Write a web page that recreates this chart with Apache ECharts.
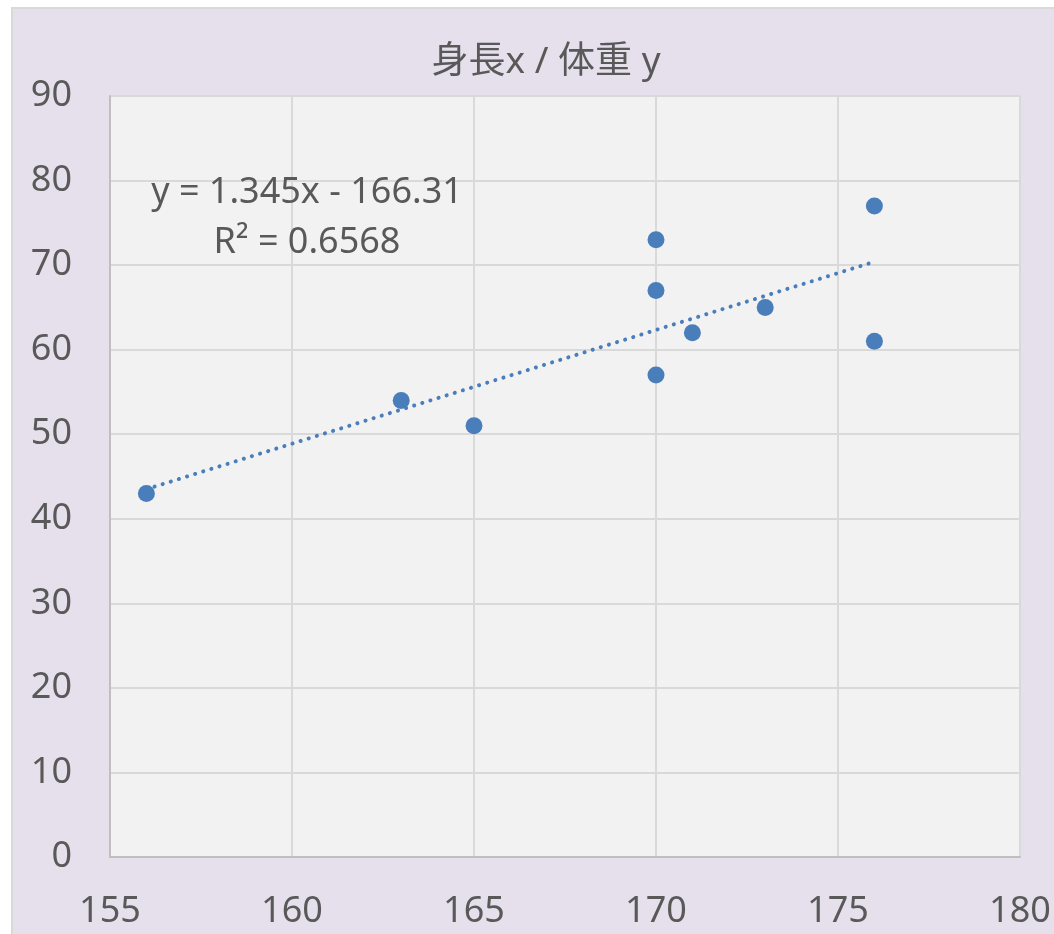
<!DOCTYPE html>
<html lang="ja">
<head>
	<meta charset="UTF-8">
	<title>身長x / 体重 y</title>
	<style>
		html, body { margin: 0; padding: 0; background: #fff; overflow: hidden; }
		#frame { position: absolute; left: 11px; top: 7px; width: 1100px; height: 1000px;
			background: #E6E0EC; border: 2px solid #D9D9D9; box-sizing: border-box; }
		#main { position: absolute; left: 0; top: 0; width: 1054px; height: 934px; }
	</style>
</head>
<body>
	<div id="frame"></div>
	<div id="main"></div>
	<script src="https://cdn.jsdelivr.net/npm/echarts@6/dist/echarts.min.js"></script>
	<script>
		// データ
		var heights = [156, 163, 165, 170, 170, 170, 171, 173, 176, 176];
		var weights = [43, 54, 51, 73, 67, 57, 62, 65, 77, 61];
		// 近似直線の両端
		var trendX = [156, 176];
		var trendY = [43.5, 70.4];
		var xTicks = [155, 160, 165, 170, 175, 180];
		var yTicks = [0, 10, 20, 30, 40, 50, 60, 70, 80, 90];

		var font = '"Noto Sans", "Noto Sans CJK JP", sans-serif';
		var textColor = '#595959';
		var blue = '#4A7EBB';

		var points = heights.map(function (h, i) { return [h, weights[i]]; });
		var trend = trendX.map(function (x, i) { return [x, trendY[i]]; });

		var myChart = echarts.init(document.getElementById('main'));
		myChart.setOption({
			backgroundColor: 'transparent',
			animation: false,
			title: {
				text: '身長x / 体重 y',
				left: 541,
				top: 39,
				textAlign: 'center',
				textStyle: { fontFamily: font, fontSize: 37, fontWeight: 'normal', color: textColor }
			},
			grid: { left: 110, right: 34, top: 96, bottom: 77, show: true, backgroundColor: '#F2F2F2', borderWidth: 0 },
			xAxis: {
				type: 'value',
				min: xTicks[0],
				max: xTicks[xTicks.length - 1],
				interval: 5,
				axisLine: { show: true, lineStyle: { color: '#BFBFBF', width: 2 } },
				axisTick: { show: false },
				splitLine: { show: true, lineStyle: { color: '#D9D9D9', width: 2 } },
				axisLabel: { margin: 37, fontFamily: font, fontSize: 36, color: textColor, showMinLabel: true, showMaxLabel: true }
			},
			yAxis: {
				type: 'value',
				min: yTicks[0],
				max: yTicks[yTicks.length - 1],
				interval: 10,
				axisLine: { show: true, lineStyle: { color: '#BFBFBF', width: 2 } },
				axisTick: { show: false },
				splitLine: { show: true, lineStyle: { color: '#D9D9D9', width: 2 } },
				axisLabel: { margin: 38, fontFamily: font, fontSize: 36, color: textColor }
			},
			graphic: [
				{ type: 'text', x: 307, y: 193, z: 100, style: { text: 'y = 1.345x - 166.31', textAlign: 'center', textVerticalAlign: 'middle', fill: textColor, font: '36px ' + font } },
				{ type: 'text', x: 307, y: 243, z: 100, style: { text: 'R² = 0.6568', textAlign: 'center', textVerticalAlign: 'middle', fill: textColor, font: '36px ' + font } }
			],
			series: [
				{
					type: 'line',
					data: trend,
					symbol: 'none',
					lineStyle: { color: blue, width: 4, type: [0.1, 8.4], cap: 'round' },
					z: 2
				},
				{
					type: 'scatter',
					data: points,
					symbolSize: 17,
					itemStyle: { color: blue, opacity: 1 },
					z: 3
				}
			]
		});
	</script>
</body>
</html>
